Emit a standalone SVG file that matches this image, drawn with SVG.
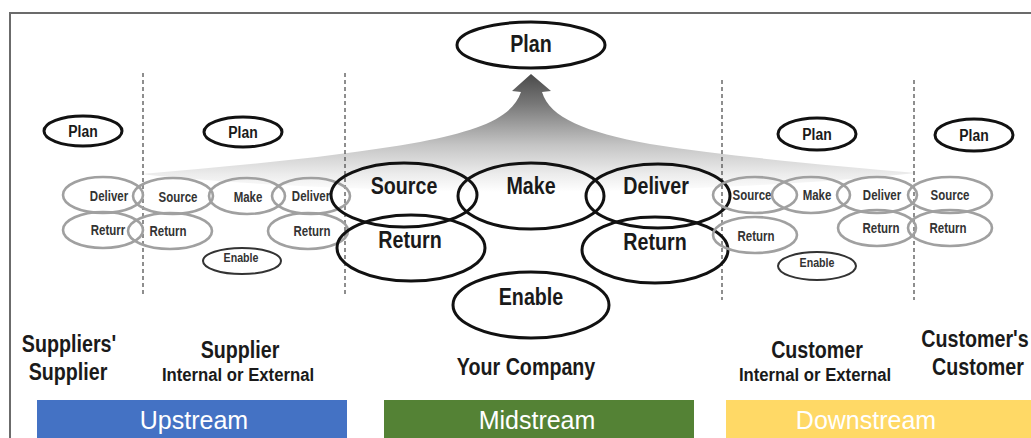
<svg xmlns="http://www.w3.org/2000/svg" width="1031" height="438" viewBox="0 0 1031 438">
  <defs>
    <linearGradient id="fanGrad" x1="0" y1="74" x2="0" y2="192" gradientUnits="userSpaceOnUse">
      <stop offset="0" stop-color="#4a4a4a"/>
      <stop offset="0.25" stop-color="#777"/>
      <stop offset="0.6" stop-color="#c4c4c4"/>
      <stop offset="0.85" stop-color="#ececec"/>
      <stop offset="1" stop-color="#ffffff"/>
    </linearGradient>
    <style>
      .frame { stroke: #6b6b6b; stroke-width: 2; fill: none; }
      .divider { stroke: #444; stroke-width: 1.2; stroke-dasharray: 4 3; fill: none; }
      .big { fill: none; stroke: #111; stroke-width: 3; }
      .plan { fill: none; stroke: #111; stroke-width: 3; }
      .small { fill: none; stroke: #a0a0a0; stroke-width: 2.6; }
      .enable-s { fill: none; stroke: #333; stroke-width: 2; }
      text { font-family: "Liberation Sans", Arial, sans-serif; font-weight: bold; text-anchor: middle; dominant-baseline: central;
             transform-box: fill-box; transform-origin: center; transform: scaleX(0.82); }
      .t-big { font-size: 24px; fill: #1a1a1a; }
      .t-plan { font-size: 17px; fill: #1a1a1a; }
      .t-small { font-size: 14px; fill: #333; }
      .t-tiny { font-size: 13px; fill: #333; }
      .t-party { font-size: 24px; fill: #1a1a1a; }
      .t-sub { font-size: 19px; fill: #1a1a1a; transform: scaleX(0.88); }
      .t-band { font-size: 25px; font-weight: normal; fill: #fff; transform: none; }
    </style>
  </defs>

  <rect width="1031" height="438" fill="#fff"/>

  <!-- outer frame: top and left edges -->
  <path class="frame" d="M10,438 V13 H1031"/>

  <!-- planning fan rising to the central Plan -->
  <path id="fan" fill="url(#fanGrad)" d="M142,174 C230,166 330,158 420,142 C480,130 512,118 521,92 L512,91 L531,74 L551,91 L542,92 C550,118 585,132 650,144 C740,158 840,166 916,173 C800,186 620,192 531,192 C430,192 240,186 142,174 Z"/>

  <!-- dashed dividers between parties -->
  <g id="dividers">
    <line class="divider" x1="143" y1="73" x2="143" y2="296"/>
    <line class="divider" x1="345" y1="73" x2="345" y2="296"/>
    <line class="divider" x1="722" y1="80" x2="722" y2="300"/>
    <line class="divider" x1="914" y1="80" x2="914" y2="300"/>
  </g>

  <!-- central Plan -->
  <g id="plan-main">
    <ellipse class="big" cx="531" cy="45" rx="74" ry="23"/>
    <text class="t-big" x="531" y="44">Plan</text>
  </g>

  <!-- Suppliers' Supplier -->
  <g id="ss-plan">
    <ellipse class="plan" cx="83" cy="131" rx="39" ry="15"/>
    <text class="t-plan" x="83" y="131">Plan</text>
  </g>
  <g id="ss-deliver">
    <ellipse class="small" cx="103" cy="195" rx="40" ry="18"/>
    <text class="t-small" x="109" y="196">Deliver</text>
  </g>
  <g id="ss-return">
    <ellipse class="small" cx="103" cy="230" rx="40" ry="18"/>
    <text class="t-small" x="108" y="230">Returr</text>
  </g>

  <!-- Supplier -->
  <g id="sup-plan">
    <ellipse class="plan" cx="243" cy="132" rx="39" ry="15"/>
    <text class="t-plan" x="243" y="132">Plan</text>
  </g>
  <g id="sup-source">
    <ellipse class="small" cx="173" cy="196" rx="40" ry="18"/>
    <text class="t-small" x="178" y="197">Source</text>
  </g>
  <g id="sup-make">
    <ellipse class="small" cx="247" cy="196" rx="38" ry="18"/>
    <text class="t-small" x="248" y="197">Make</text>
  </g>
  <g id="sup-deliver">
    <ellipse class="small" cx="311" cy="196" rx="39" ry="18"/>
    <text class="t-small" x="311" y="196">Deliver</text>
  </g>
  <g id="sup-return-in">
    <ellipse class="small" cx="170" cy="231" rx="42" ry="18"/>
    <text class="t-small" x="168" y="231">Return</text>
  </g>
  <g id="sup-return-out">
    <ellipse class="small" cx="308" cy="231" rx="40" ry="18"/>
    <text class="t-small" x="312" y="231">Return</text>
  </g>
  <g id="sup-enable">
    <ellipse class="enable-s" cx="242" cy="261" rx="39" ry="13"/>
    <text class="t-tiny" x="241" y="258">Enable</text>
  </g>

  <!-- Your Company -->
  <g id="co-source">
    <ellipse class="big" cx="404" cy="195" rx="73" ry="32"/>
    <text class="t-big" x="404" y="186">Source</text>
  </g>
  <g id="co-make">
    <ellipse class="big" cx="531" cy="196" rx="73" ry="33"/>
    <text class="t-big" x="531" y="186">Make</text>
  </g>
  <g id="co-deliver">
    <ellipse class="big" cx="658" cy="196" rx="72" ry="32"/>
    <text class="t-big" x="656" y="186">Deliver</text>
  </g>
  <g id="co-return-in">
    <ellipse class="big" cx="411" cy="248" rx="74" ry="33"/>
    <text class="t-big" x="410" y="240">Return</text>
  </g>
  <g id="co-return-out">
    <ellipse class="big" cx="655" cy="250" rx="73" ry="33"/>
    <text class="t-big" x="655" y="242">Return</text>
  </g>
  <g id="co-enable">
    <ellipse class="big" cx="531" cy="305" rx="78" ry="33"/>
    <text class="t-big" x="531" y="297">Enable</text>
  </g>

  <!-- Customer -->
  <g id="cu-plan">
    <ellipse class="plan" cx="817" cy="134" rx="39" ry="16"/>
    <text class="t-plan" x="817" y="134">Plan</text>
  </g>
  <g id="cu-source">
    <ellipse class="small" cx="755" cy="195" rx="42" ry="18"/>
    <text class="t-small" x="752" y="195">Source</text>
  </g>
  <g id="cu-make">
    <ellipse class="small" cx="811" cy="195" rx="39" ry="18"/>
    <text class="t-small" x="817" y="195">Make</text>
  </g>
  <g id="cu-deliver">
    <ellipse class="small" cx="877" cy="195" rx="40" ry="18"/>
    <text class="t-small" x="882" y="195">Deliver</text>
  </g>
  <g id="cu-return-in">
    <ellipse class="small" cx="755" cy="235" rx="42" ry="18"/>
    <text class="t-small" x="756" y="236">Return</text>
  </g>
  <g id="cu-return-out">
    <ellipse class="small" cx="877" cy="228" rx="39" ry="18"/>
    <text class="t-small" x="881" y="228">Return</text>
  </g>
  <g id="cu-enable">
    <ellipse class="enable-s" cx="817" cy="266" rx="39" ry="14"/>
    <text class="t-tiny" x="817" y="263">Enable</text>
  </g>

  <!-- Customer's Customer -->
  <g id="cc-plan">
    <ellipse class="plan" cx="974" cy="135" rx="39" ry="16"/>
    <text class="t-plan" x="974" y="135">Plan</text>
  </g>
  <g id="cc-source">
    <ellipse class="small" cx="950" cy="195" rx="42" ry="18"/>
    <text class="t-small" x="950" y="195">Source</text>
  </g>
  <g id="cc-return">
    <ellipse class="small" cx="950" cy="228" rx="42" ry="18"/>
    <text class="t-small" x="948" y="228">Return</text>
  </g>

  <!-- party labels -->
  <g id="labels">
    <text class="t-party" x="69" y="344">Suppliers'</text>
    <text class="t-party" x="68" y="372">Supplier</text>
    <text class="t-party" x="240" y="350">Supplier</text>
    <text class="t-sub" x="238" y="375">Internal or External</text>
    <text class="t-party" x="526" y="367">Your Company</text>
    <text class="t-party" x="817" y="350">Customer</text>
    <text class="t-sub" x="815" y="375">Internal or External</text>
    <text class="t-party" x="975" y="339">Customer's</text>
    <text class="t-party" x="978" y="367">Customer</text>
  </g>

  <!-- stream bands -->
  <g id="band-upstream">
    <rect x="37" y="400" width="310" height="38" fill="#4472c4"/>
    <text class="t-band" x="194" y="420">Upstream</text>
  </g>
  <g id="band-midstream">
    <rect x="384" y="400" width="310" height="38" fill="#548235"/>
    <text class="t-band" x="537" y="420">Midstream</text>
  </g>
  <g id="band-downstream">
    <rect x="726" y="400" width="305" height="38" fill="#ffd966"/>
    <text class="t-band" x="866" y="420">Downstream</text>
  </g>
</svg>
